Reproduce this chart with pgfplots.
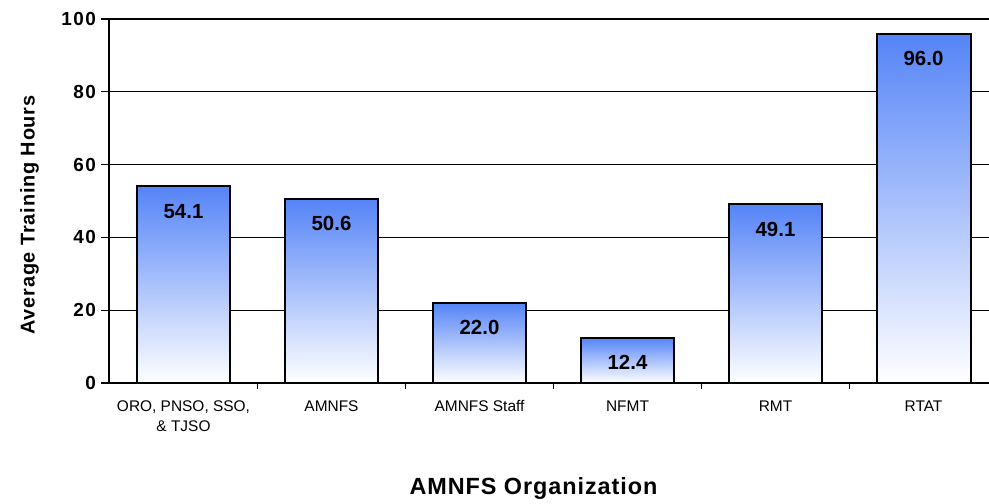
\documentclass[border=0pt]{standalone}
\usepackage{fontspec}
\setmainfont{Liberation Sans}
\usepackage{pgfplots}
\pgfplotsset{compat=1.18}
\definecolor{barblue}{RGB}{85,132,247}
\begin{document}
\begin{tikzpicture}
\useasboundingbox (-109.5bp,-121bp) rectangle (879.5bp,383bp);
\begin{axis}[
  at={(0,0)}, anchor=south west,
  scale only axis,
  width=888bp, height=364bp,
  xmin=-0.5, xmax=5.5,
  ymin=0, ymax=100,
  axis lines*=left,
  axis line style={line width=2bp},
  ytick={0,20,40,60,80,100},
  ymajorgrids,
  grid style={black, line width=1.3bp},
  y tick style={black, line width=1.3bp},
  tick align=outside,
  major tick length=8bp,
  yticklabel style={font=\fontsize{19}{19}\selectfont\bfseries\addfontfeatures{LetterSpace=8}, xshift=-2bp},
  /pgf/number format/assume math mode=true,
  xtick={0,1,2,3,4,5},
  xticklabels={{ORO, PNSO, SSO,\\\& TJSO},{AMNFS},{AMNFS Staff},{NFMT},{RMT},{RTAT}},
  xticklabel style={font=\fontsize{15.5}{20}\selectfont, align=center, anchor=north, yshift=-6bp},
  x tick style={draw=none},
  extra x ticks={0.5,1.5,2.5,3.5,4.5},
  extra x tick labels={},
  extra x tick style={x tick style={draw=black, line width=1.3bp}, major tick length=6bp},
  ylabel={Average Training Hours},
  every axis y label/.style={at={(-80bp,168bp)}, anchor=center, rotate=90, font=\fontsize{20}{20}\selectfont\bfseries\addfontfeatures{LetterSpace=4}},
  xlabel={AMNFS Organization},
  every axis x label/.style={at={(424bp,-105bp)}, anchor=center, font=\fontsize{23.5}{23.5}\selectfont\bfseries\addfontfeatures{LetterSpace=4}},
  clip=false,
  mybar/.style={ybar, bar shift=0pt, bar width=0.635, draw=black, line width=2bp,
    top color=barblue, bottom color=white,
    nodes near coords,
    nodes near coords style={font=\fontsize{20.5}{20.5}\selectfont\bfseries, anchor=center, yshift=-25bp, /pgf/number format/.cd, fixed, fixed zerofill, precision=1, assume math mode=true}},
]
\addplot[mybar] coordinates {(0,54.1)};
\addplot[mybar] coordinates {(1,50.6)};
\addplot[mybar] coordinates {(2,22.0)};
\addplot[mybar] coordinates {(3,12.4)};
\addplot[mybar] coordinates {(4,49.1)};
\addplot[mybar] coordinates {(5,96.0)};
\end{axis}
\end{tikzpicture}
\end{document}
